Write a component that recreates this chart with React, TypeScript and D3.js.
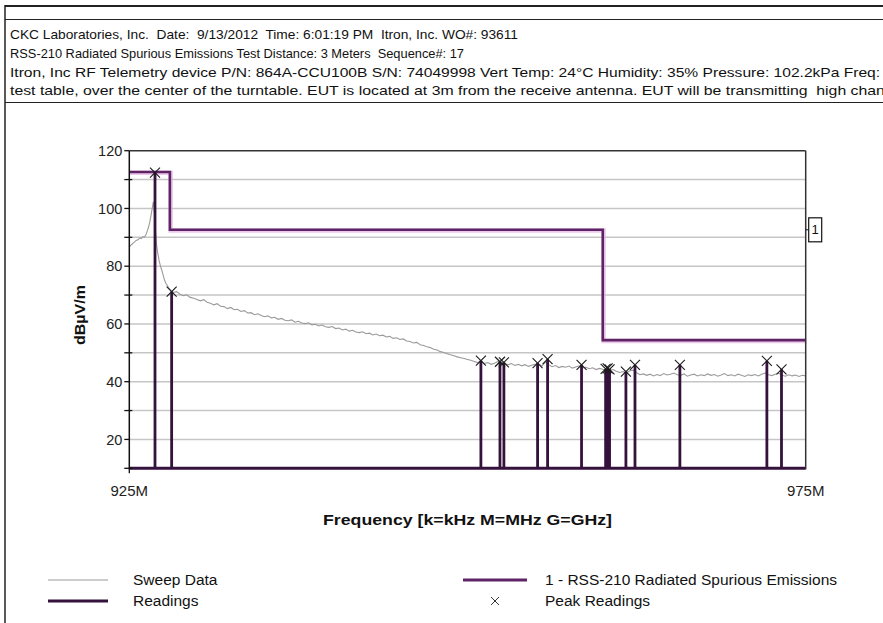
import React from 'react';
import * as d3 from 'd3';

const headerLines = [
  'CKC Laboratories, Inc.  Date:  9/13/2012  Time: 6:01:19 PM  Itron, Inc. WO#: 93611',
  'RSS-210 Radiated Spurious Emissions Test Distance: 3 Meters  Sequence#: 17',
  'Itron, Inc RF Telemetry device P/N: 864A-CCU100B S/N: 74049998 Vert Temp: 24°C Humidity: 35% Pressure: 102.2kPa Freq: 925-975 MHz',
  'test table, over the center of the turntable. EUT is located at 3m from the receive antenna. EUT will be transmitting  high channel',
];
const headerWidths = [508, 454, 968, 896];

const yTickLabels = [20, 40, 60, 80, 100, 120];
const yMinorTicks = [10, 20, 30, 40, 50, 60, 70, 80, 90, 100, 110, 120];
const yGridValues = [20, 30, 40, 50, 60, 70, 80, 90, 100, 110];
const xTickValues = [925, 975];
const xTickLabels = ['925M', '975M'];

// limit (step after)
const limitFreqs = [925, 928, 960, 975];
const limitLevels = [112.6, 92.6, 54.4, 54.4];

const readingFreqs = [926.9, 928.13, 950.99, 952.4, 952.69, 955.18, 955.92, 958.43, 960.21, 960.36, 960.5, 961.71, 962.38, 965.7, 972.13, 973.21];
const readingLevels = [112.4, 71.2, 47.3, 46.9, 46.7, 46.4, 47.8, 45.8, 44.4, 44.6, 44.3, 43.5, 45.8, 45.8, 47.2, 44.3];

const sweep: [number, number][] = [
  [925.0, 86.6], [925.1, 87.2], [925.2, 87.6], [925.3, 88.1], [925.4, 88.4], [925.5, 88.9], [925.6, 89.1], [925.7, 89.4], [925.8, 89.8], [925.9, 89.6],
  [926.0, 90.2], [926.1, 90.0], [926.2, 90.6], [926.3, 91.8], [926.4, 93.2], [926.5, 95.0], [926.6, 97.4], [926.7, 100.2], [926.78, 102.4], [926.85, 99.0],
  [926.92, 93.5], [927.0, 88.0], [927.1, 84.6], [927.2, 82.0], [927.3, 80.1], [927.4, 78.6], [927.5, 77.0], [927.6, 75.2], [927.7, 74.1], [927.8, 73.4],
  [927.9, 72.6], [928.0, 72.0], [928.1, 71.5],
  [928.25, 70.9], [928.5, 71.2], [928.75, 70.3], [929.0, 69.8],
  [929.25, 70.1], [929.5, 69.2], [929.75, 68.9], [930.0, 68.5],
  [930.25, 68.0], [930.5, 68.4], [930.75, 67.5], [931.0, 67.2],
  [931.25, 66.6], [931.5, 67.0], [931.75, 66.1], [932.0, 66.0],
  [932.25, 65.3], [932.5, 65.7], [932.75, 64.9], [933.0, 65.1],
  [933.25, 64.3], [933.5, 64.6], [933.75, 63.8], [934.0, 63.9],
  [934.25, 63.2], [934.5, 63.5], [934.75, 62.9], [935.0, 62.5],
  [935.25, 62.8], [935.5, 62.1], [935.75, 62.3], [936.0, 61.6],
  [936.25, 61.9], [936.5, 61.3], [936.75, 61.1], [937.0, 61.4],
  [937.25, 60.6], [937.5, 60.9], [937.75, 60.3], [938.0, 60.1],
  [938.25, 60.4], [938.5, 59.7], [938.75, 59.9], [939.0, 59.3],
  [939.25, 59.6], [939.5, 59.0], [939.75, 58.8], [940.0, 59.1],
  [940.25, 58.4], [940.5, 58.6], [940.75, 57.9], [941.0, 58.2],
  [941.25, 57.5], [941.5, 57.8], [941.75, 57.2], [942.0, 57.0],
  [942.25, 57.3], [942.5, 56.6], [942.75, 56.8], [943.0, 56.2],
  [943.25, 56.5], [943.5, 55.9], [943.75, 56.1], [944.0, 55.5],
  [944.25, 55.7], [944.5, 55.0], [944.75, 55.2], [945.0, 54.6],
  [945.25, 54.8], [945.5, 54.1], [945.75, 53.9], [946.0, 53.4],
  [946.25, 53.6], [946.5, 52.8], [946.75, 52.5], [947.0, 52.1],
  [947.25, 51.8], [947.5, 51.2], [947.75, 51.0], [948.0, 50.4],
  [948.25, 50.1], [948.5, 49.7], [948.75, 49.3], [949.0, 49.0],
  [949.25, 48.6], [949.5, 48.3], [949.75, 48.0], [950.0, 47.7],
  [950.25, 47.4], [950.5, 47.0], [950.75, 46.6], [951.0, 47.2],
  [951.25, 46.3], [951.5, 46.6], [951.75, 46.0], [952.0, 46.4],
  [952.25, 47.0], [952.5, 46.8], [952.75, 46.2], [953.0, 45.9],
  [953.25, 46.3], [953.5, 45.6], [953.75, 46.0], [954.0, 45.5],
  [954.25, 45.9], [954.5, 45.3], [954.75, 45.7], [955.0, 46.0],
  [955.25, 46.2], [955.5, 45.4], [955.75, 46.8], [956.0, 45.9],
  [956.25, 45.2], [956.5, 45.6], [956.75, 44.9], [957.0, 45.3],
  [957.25, 45.0], [957.5, 45.4], [957.75, 44.7], [958.0, 45.1],
  [958.25, 45.5], [958.5, 44.8], [958.75, 45.0], [959.0, 44.5],
  [959.25, 44.8], [959.5, 44.2], [959.75, 44.6], [960.0, 44.3],
  [960.25, 44.1], [960.5, 43.9], [960.75, 44.2], [961.0, 43.6],
  [961.25, 43.2], [961.5, 43.5], [961.75, 43.0], [962.0, 43.8],
  [962.25, 44.0], [962.5, 43.1], [962.75, 42.4], [963.0, 42.7],
  [963.25, 42.2], [963.5, 42.6], [963.75, 42.0], [964.0, 42.5],
  [964.25, 42.1], [964.5, 42.8], [964.75, 42.3], [965.0, 42.6],
  [965.25, 43.0], [965.5, 42.4], [965.75, 42.2], [966.0, 42.7],
  [966.25, 41.9], [966.5, 42.3], [966.75, 42.6], [967.0, 42.0],
  [967.25, 42.4], [967.5, 42.1], [967.75, 42.7], [968.0, 42.2],
  [968.25, 42.5], [968.5, 41.9], [968.75, 42.3], [969.0, 42.8],
  [969.25, 42.1], [969.5, 42.4], [969.75, 42.0], [970.0, 42.6],
  [970.25, 42.2], [970.5, 41.8], [970.75, 42.4], [971.0, 42.1],
  [971.25, 42.5], [971.5, 42.0], [971.75, 42.6], [972.0, 43.0],
  [972.25, 42.4], [972.5, 42.1], [972.75, 42.6], [973.0, 42.9],
  [973.25, 42.2], [973.5, 41.9], [973.75, 42.4], [974.0, 42.0],
  [974.25, 42.3], [974.5, 41.8], [974.75, 42.2], [975.0, 42.0],
];

const legendLeft = ['Sweep Data', 'Readings'];
const legendRight = ['1 - RSS-210 Radiated Spurious Emissions', 'Peak Readings'];

const FONT = 'Liberation Sans, Arial, sans-serif';
const LIMIT_COLOR = '#5e2466';
const READ_COLOR = '#34123c';
const SWEEP_COLOR = '#9a9a9a';

export default function App() {
  const W = 883, H = 623;
  const left = 129.3, right = 805.7, top = 150.7, bottom = 468.3;
  const x = d3.scaleLinear().domain([925, 975]).range([left, right]);
  const y = d3.scaleLinear().domain([10, 120]).range([bottom, top]);

  const limitData = limitFreqs.map((f, i) => [f, limitLevels[i]] as [number, number]);
  const limitPath = d3.line<[number, number]>().x(d => x(d[0])).y(d => y(d[1])).curve(d3.curveStepAfter)(limitData) || '';
  const sweepPath = d3.line<[number, number]>().x(d => x(d[0])).y(d => y(d[1]))(sweep) || '';

  const limitLabelLevel = limitLevels[1];

  return (
    <svg width={W} height={H} style={{ position: 'absolute', left: 0, top: 0, background: '#fff' }} fontFamily={FONT}>
      {/* frame */}
      <line x1={5} x2={W} y1={6} y2={6} stroke="#222" strokeWidth={2} />
      <line x1={5} x2={W} y1={19.5} y2={19.5} stroke="#222" strokeWidth={1.2} />
      <line x1={5} x2={5} y1={5} y2={H} stroke="#222" strokeWidth={1.5} />
      <line x1={5} x2={W} y1={102.5} y2={102.5} stroke="#222" strokeWidth={1.2} />
      {headerLines.map((t, i) => (
        <text key={i} x={10} y={39 + i * 18.8} fontSize={13.4} fill="#111" style={{ whiteSpace: 'pre' }}
          textLength={headerWidths[i]} lengthAdjust="spacingAndGlyphs">{t}</text>
      ))}

      {/* grid */}
      {yGridValues.map(v => (
        <line key={v} x1={left} x2={right} y1={y(v)} y2={y(v)} stroke="#c6c6c6" strokeWidth={1.5} />
      ))}

      {/* sweep */}
      <path d={sweepPath} fill="none" stroke={SWEEP_COLOR} strokeWidth={1.1} />

      {/* limit */}
      <path d={limitPath} fill="none" stroke="#e6b3e6" strokeWidth={4.5} strokeOpacity={0.7} transform="translate(0.8,0.8)" />
      <path d={limitPath} fill="none" stroke={LIMIT_COLOR} strokeWidth={2.6} />

      {/* readings */}
      <line x1={x(925)} x2={x(975)} y1={y(10)} y2={y(10)} stroke={READ_COLOR} strokeWidth={3} />
      {readingFreqs.map((f, i) => (
        <line key={i} x1={x(f)} x2={x(f)} y1={y(10)} y2={y(readingLevels[i])} stroke={READ_COLOR} strokeWidth={2.8} />
      ))}
      {readingFreqs.map((f, i) => {
        const cx = x(f), cy = y(readingLevels[i]);
        return (
          <g key={'m' + i} stroke="#1a1a1a" strokeWidth={1.1}>
            <line x1={cx - 5} x2={cx + 5} y1={cy - 5} y2={cy + 5} />
            <line x1={cx - 5} x2={cx + 5} y1={cy + 5} y2={cy - 5} />
          </g>
        );
      })}

      {/* plot border */}
      <line x1={left} x2={right} y1={top} y2={top} stroke="#333" strokeWidth={1.5} />
      <line x1={right} x2={right} y1={top} y2={bottom + 1} stroke="#333" strokeWidth={1.5} />
      <line x1={left} x2={left} y1={top} y2={bottom + 1} stroke="#111" strokeWidth={1.5} />

      {/* y ticks */}
      {yMinorTicks.map(v => (
        <line key={v} x1={left - 5} x2={yTickLabels.includes(v) ? left : left + 3} y1={y(v)} y2={y(v)} stroke="#111" strokeWidth={1.3} />
      ))}
      {yTickLabels.map(v => (
        <text key={v} x={left - 7} y={y(v)} dy="0.35em" textAnchor="end" fontSize={14.5} fill="#222">{v}</text>
      ))}
      <line x1={left} x2={left} y1={bottom} y2={bottom + 5} stroke="#111" strokeWidth={1.3} />

      {/* x labels */}
      {xTickValues.map((v, i) => (
        <text key={v} x={x(v)} y={496} textAnchor="middle" fontSize={15} fill="#222">{xTickLabels[i]}</text>
      ))}

      {/* axis titles */}
      <text x={467.5} y={525} textAnchor="middle" fontSize={15} fontWeight="bold" fill="#111" textLength={289} lengthAdjust="spacingAndGlyphs">Frequency [k=kHz M=MHz G=GHz]</text>
      <text transform={`translate(85,${315}) rotate(-90)`} textAnchor="middle" fontSize={15} fontWeight="bold" fill="#111" textLength={60} lengthAdjust="spacingAndGlyphs">dBµV/m</text>

      {/* limit label */}
      <line x1={right} x2={right + 3} y1={y(limitLabelLevel)} y2={y(limitLabelLevel)} stroke="#111" />
      <rect x={right + 3} y={y(limitLabelLevel) - 12} width={13} height={24} fill="#fff" stroke="#111" strokeWidth={1.2} />
      <text x={right + 9.5} y={y(limitLabelLevel)} dy="0.35em" textAnchor="middle" fontSize={13} fill="#111">1</text>

      {/* legend */}
      <line x1={48} x2={108} y1={580} y2={580} stroke={SWEEP_COLOR} strokeWidth={1.2} />
      <line x1={48} x2={108} y1={601} y2={601} stroke={READ_COLOR} strokeWidth={3} />
      {legendLeft.map((t, i) => (
        <text key={t} x={133} y={580 + i * 21} dy="0.35em" fontSize={15.5} fill="#111">{t}</text>
      ))}
      <line x1={463} x2={527} y1={580} y2={580} stroke={LIMIT_COLOR} strokeWidth={3} />
      <g stroke="#333" strokeWidth={1}>
        <line x1={491} x2={499} y1={597} y2={605} />
        <line x1={491} x2={499} y1={605} y2={597} />
      </g>
      {legendRight.map((t, i) => (
        <text key={t} x={545} y={580 + i * 21} dy="0.35em" fontSize={15.5} fill="#111">{t}</text>
      ))}
    </svg>
  );
}
